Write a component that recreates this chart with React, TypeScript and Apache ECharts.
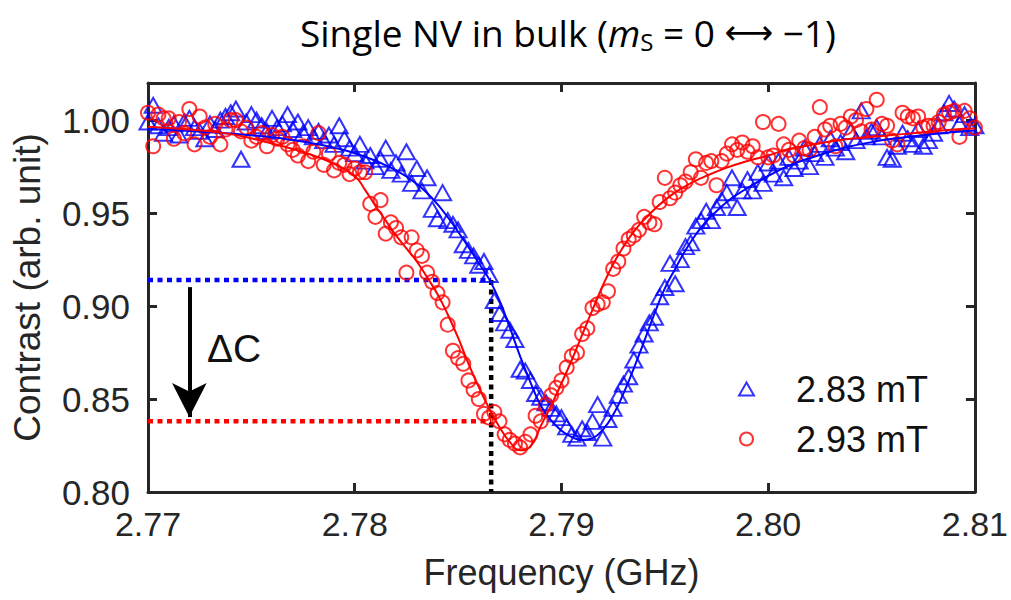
import React, { useEffect, useRef } from "react";
import * as echarts from "echarts";

// Frequency sweep (GHz)
const freq = [
  2.77, 2.77025, 2.7705, 2.77075, 2.771, 2.77125, 2.7715, 2.77175, 2.772, 2.77225,
  2.7725, 2.77275, 2.773, 2.77325, 2.7735, 2.77375, 2.774, 2.77425, 2.7745, 2.77475,
  2.775, 2.77525, 2.7755, 2.77575, 2.776, 2.77625, 2.7765, 2.77675, 2.777, 2.77725,
  2.7775, 2.77775, 2.778, 2.77825, 2.7785, 2.77875, 2.779, 2.77925, 2.7795, 2.77975,
  2.78, 2.78025, 2.7805, 2.78075, 2.781, 2.78125, 2.7815, 2.78175, 2.782, 2.78225,
  2.7825, 2.78275, 2.783, 2.78325, 2.7835, 2.78375, 2.784, 2.78425, 2.7845, 2.78475,
  2.785, 2.78525, 2.7855, 2.78575, 2.786, 2.78625, 2.7865, 2.78675, 2.787, 2.78725,
  2.7875, 2.78775, 2.788, 2.78825, 2.7885, 2.78875, 2.789, 2.78925, 2.7895, 2.78975,
  2.79, 2.79025, 2.7905, 2.79075, 2.791, 2.79125, 2.7915, 2.79175, 2.792, 2.79225,
  2.7925, 2.79275, 2.793, 2.79325, 2.7935, 2.79375, 2.794, 2.79425, 2.7945, 2.79475,
  2.795, 2.79525, 2.7955, 2.79575, 2.796, 2.79625, 2.7965, 2.79675, 2.797, 2.79725,
  2.7975, 2.79775, 2.798, 2.79825, 2.7985, 2.79875, 2.799, 2.79925, 2.7995, 2.79975,
  2.8, 2.80025, 2.8005, 2.80075, 2.801, 2.80125, 2.8015, 2.80175, 2.802, 2.80225,
  2.8025, 2.80275, 2.803, 2.80325, 2.8035, 2.80375, 2.804, 2.80425, 2.8045, 2.80475,
  2.805, 2.80525, 2.8055, 2.80575, 2.806, 2.80625, 2.8065, 2.80675, 2.807, 2.80725,
  2.8075, 2.80775, 2.808, 2.80825, 2.8085, 2.80875, 2.809, 2.80925, 2.8095, 2.80975,
  2.81,
];

// 2.83 mT (blue triangles)
const contrast283 = [
  0.999, 1.008, 0.997, 0.993, 0.996, 0.998, 0.992, 0.999, 1.001, 0.996,
  0.994, 0.99, 0.998, 0.995, 1.0, 1.002, 1.004, 1.006, 0.979, 0.999,
  1.003, 1.0, 0.997, 0.994, 1.001, 0.996, 0.998, 1.003, 0.995, 0.999,
  0.993, 0.996, 0.991, 0.994, 0.989, 0.992, 0.987, 0.997, 0.99, 0.985,
  0.982, 0.987, 0.978, 0.981, 0.975, 0.979, 0.985, 0.973, 0.977, 0.971,
  0.983, 0.966, 0.974, 0.962, 0.969, 0.952, 0.947, 0.961, 0.946, 0.944,
  0.941, 0.933, 0.93, 0.927, 0.922, 0.924, 0.917, 0.903, 0.896, 0.891,
  0.887, 0.882, 0.866, 0.865, 0.86, 0.853, 0.851, 0.848, 0.845, 0.842,
  0.84, 0.835, 0.831, 0.829, 0.834, 0.832, 0.838, 0.847, 0.829, 0.839,
  0.845, 0.852, 0.858, 0.862, 0.871, 0.879, 0.885, 0.891, 0.894, 0.905,
  0.91, 0.923, 0.912, 0.925, 0.932, 0.934, 0.943, 0.946, 0.951, 0.946,
  0.953, 0.957, 0.961, 0.969, 0.953, 0.962, 0.968, 0.962, 0.972, 0.966,
  0.977, 0.971, 0.978, 0.969, 0.98, 0.974, 0.978, 0.985, 0.975, 0.982,
  0.987, 0.98, 0.99, 0.985, 0.988, 0.983, 0.994, 0.989, 1.005, 0.991,
  0.994, 0.996, 0.991, 0.98, 0.979, 0.986, 0.993, 0.99, 0.987, 0.995,
  0.986, 0.989, 0.993, 0.997, 1.004, 1.009, 1.006, 0.998, 1.003, 0.996,
  0.997,
];

// 2.93 mT (red circles)
const contrast293 = [
  1.004, 0.986, 1.003, 1.001, 1.001, 0.99, 0.999, 0.993, 1.006, 0.987,
  1.002, 0.996, 0.991, 0.998, 0.987, 0.995, 1.0, 1.0, 0.994, 0.996,
  0.989, 0.991, 0.993, 0.986, 0.992, 0.99, 0.991, 0.987, 0.984, 0.981,
  0.986, 0.978, 0.983, 0.993, 0.976, 0.982, 0.973, 0.977, 0.976, 0.971,
  0.974, 0.972, 0.972, 0.955, 0.948, 0.957, 0.939, 0.945, 0.942, 0.937,
  0.918, 0.937, 0.93, 0.927, 0.918, 0.913, 0.907, 0.902, 0.89, 0.876,
  0.872, 0.869, 0.86, 0.855, 0.85, 0.842, 0.84, 0.843, 0.838, 0.831,
  0.828, 0.826, 0.824, 0.827, 0.831, 0.841, 0.838, 0.847, 0.852, 0.856,
  0.86, 0.867, 0.873, 0.875, 0.885, 0.888, 0.899, 0.901, 0.902, 0.908,
  0.92, 0.924, 0.931, 0.936, 0.938, 0.941, 0.948, 0.945, 0.944, 0.956,
  0.969, 0.958, 0.961, 0.965, 0.967, 0.972, 0.979, 0.969, 0.977, 0.978,
  0.965, 0.978, 0.982, 0.987, 0.984, 0.988, 0.983, 0.986, 0.98, 0.999,
  0.98, 0.981, 0.998, 0.987, 0.984, 0.981, 0.989, 0.985, 0.984, 0.991,
  1.007, 0.995, 0.997, 0.986, 0.998, 0.996, 1.002, 1.0, 0.994, 1.006,
  0.995, 1.011, 0.998, 0.997, 0.989, 0.987, 1.004, 1.002, 1.001, 1.002,
  0.996, 0.997, 0.997, 0.999, 1.003, 1.004, 1.005, 0.991, 1.005, 1.001,
  0.996,
];

// Fitted curves
const fitFreq283 = [
  2.77, 2.772, 2.774, 2.776, 2.777, 2.778, 2.779, 2.78, 2.781, 2.7815,
  2.782, 2.7825, 2.783, 2.7835, 2.784, 2.7845, 2.785, 2.7855, 2.786, 2.7865,
  2.787, 2.7875, 2.788, 2.7885, 2.789, 2.7895, 2.79, 2.7905, 2.791, 2.7915,
  2.792, 2.7925, 2.793, 2.7935, 2.794, 2.7945, 2.795, 2.7955, 2.796, 2.7965,
  2.797, 2.7975, 2.798, 2.7985, 2.799, 2.8, 2.801, 2.802, 2.803, 2.804,
  2.805, 2.806, 2.807, 2.808, 2.809, 2.81,
];
const fit283 = [
  0.9952, 0.9942, 0.9928, 0.9908, 0.9893, 0.9875, 0.9852, 0.9822, 0.9782, 0.9757,
  0.973, 0.9697, 0.9657, 0.9608, 0.9548, 0.9478, 0.94, 0.9318, 0.9232, 0.9145,
  0.903, 0.8885, 0.873, 0.859, 0.8465, 0.8385, 0.833, 0.8295, 0.828, 0.829,
  0.8335, 0.8415, 0.853, 0.8665, 0.881, 0.896, 0.9095, 0.92, 0.93, 0.9385,
  0.9455, 0.951, 0.956, 0.96, 0.9635, 0.97, 0.9755, 0.9795, 0.983, 0.986,
  0.9882, 0.99, 0.9913, 0.9925, 0.9936, 0.9945,
];
const fitFreq293 = [
  2.77, 2.772, 2.774, 2.776, 2.777, 2.778, 2.779, 2.78, 2.7805, 2.781,
  2.7815, 2.782, 2.7825, 2.783, 2.7835, 2.784, 2.7845, 2.785, 2.7855, 2.786,
  2.7865, 2.787, 2.7875, 2.788, 2.7885, 2.789, 2.7895, 2.79, 2.7905, 2.791,
  2.7915, 2.792, 2.7925, 2.793, 2.7935, 2.794, 2.795, 2.796, 2.797, 2.798,
  2.799, 2.8, 2.801, 2.802, 2.803, 2.804, 2.805, 2.806, 2.807, 2.808,
  2.809, 2.81,
];
const fit293 = [
  0.9965, 0.995, 0.9925, 0.9875, 0.9845, 0.981, 0.9765, 0.97, 0.9625, 0.954,
  0.946, 0.938, 0.931, 0.924, 0.9155, 0.9065, 0.8955, 0.883, 0.869, 0.8565,
  0.845, 0.835, 0.827, 0.8225, 0.8245, 0.8355, 0.8465, 0.8585, 0.871, 0.8845,
  0.898, 0.911, 0.9225, 0.932, 0.94, 0.9465, 0.957, 0.9645, 0.97, 0.9745,
  0.978, 0.981, 0.9845, 0.9865, 0.9885, 0.99, 0.991, 0.992, 0.993, 0.994,
  0.995, 0.9955,
];

// Annotation values
const markFreq = 2.7866;
const levelBlue = 0.914;
const levelRed = 0.838;
const arrowFreq = 2.772;
const arrowTop = 0.9102;
const arrowTip = 0.8403;

const xMin = 2.77;
const xMax = 2.81;
const xStep = 0.01;
const yMin = 0.8;
const yMax = 1.02;
const yStep = 0.05;

const seriesNames = ["2.83 mT", "2.93 mT"];

const zip = (xs: number[], ys: number[]) => xs.map((x, i) => [x, ys[i]]);

const AXIS_COLOR = "#262626";
const FONT = "Liberation Sans";

export default function App() {
  const ref = useRef<HTMLDivElement>(null);

  useEffect(() => {
    document.body.style.margin = "0";
    if (!ref.current) return;
    const chart = echarts.init(ref.current, undefined, { renderer: "svg" });

    const axisCommon = {
      axisLine: { show: true, onZero: false, lineStyle: { color: AXIS_COLOR, width: 3 } },
      axisTick: { show: true, inside: true, length: 9, lineStyle: { color: AXIS_COLOR, width: 3 } },
      splitLine: { show: false },
    };

    const dotted = (color: string) => ({
      type: "line",
      silent: true,
      symbol: "none",
      z: 1,
      lineStyle: { color, width: 4.5, type: [5, 4.5], cap: "butt" },
    });

    const titleFont = { fontFamily: "Open Sans", fontWeight: "normal", color: "#000" };

    chart.setOption({
      animation: false,
      title: {
        left: 563,
        top: 6,
        textAlign: "center",
        text: "{a|Single NV in bulk (}{i|m}{s|S}{a| = 0 }{r|⟷}{a| −1)}",
        textStyle: {
          fontWeight: "normal",
          rich: {
            a: { fontSize: 37, ...titleFont },
            i: { fontSize: 37, fontStyle: "italic", ...titleFont },
            s: { fontSize: 24, ...titleFont, padding: [18, 0, 0, 0] },
            r: { fontSize: 34, fontFamily: "DejaVu Sans", color: "#000" },
          },
        },
      },
      grid: { left: 148, right: 33, top: 83, bottom: 108 },
      xAxis: [
        {
          type: "value",
          min: xMin,
          max: xMax,
          interval: xStep,
          name: "Frequency (GHz)",
          nameLocation: "middle",
          nameGap: 62,
          nameTextStyle: { fontSize: 36, fontFamily: FONT, color: AXIS_COLOR },
          axisLabel: {
            margin: 15,
            fontSize: 34,
            fontFamily: FONT,
            color: AXIS_COLOR,
            formatter: (v: number) => v.toFixed(2),
          },
          ...axisCommon,
        },
        {
          type: "value",
          position: "top",
          min: xMin,
          max: xMax,
          interval: xStep,
          axisLabel: { show: false },
          ...axisCommon,
        },
      ],
      yAxis: [
        {
          type: "value",
          min: yMin,
          max: yMax,
          interval: yStep,
          name: "Contrast (arb. unit)",
          nameLocation: "middle",
          nameGap: 102,
          nameTextStyle: { fontSize: 37, fontFamily: FONT, color: AXIS_COLOR },
          axisLabel: {
            margin: 18,
            fontSize: 35,
            fontFamily: FONT,
            color: AXIS_COLOR,
            showMaxLabel: false,
            formatter: (v: number) => v.toFixed(2),
          },
          ...axisCommon,
        },
        {
          type: "value",
          position: "right",
          min: yMin,
          max: yMax,
          interval: yStep,
          axisLabel: { show: false },
          ...axisCommon,
        },
      ],
      legend: {
        data: seriesNames,
        orient: "vertical",
        left: 733,
        top: 366,
        itemWidth: 15,
        itemHeight: 13,
        itemGap: 14,
        textStyle: {
          fontSize: 36,
          fontFamily: FONT,
          color: "#111",
          lineHeight: 34,
          padding: [0, 0, 0, 37],
        },
      },
      graphic: [
        {
          type: "text",
          left: 207,
          top: 329,
          style: { text: "ΔC", font: '39px "Liberation Sans"', fill: "#111" },
        },
      ],
      series: [
        {
          ...dotted("#0000ff"),
          data: [
            [xMin, levelBlue],
            [markFreq, levelBlue],
          ],
        },
        {
          ...dotted("#ff0000"),
          data: [
            [xMin, levelRed],
            [markFreq, levelRed],
          ],
        },
        {
          ...dotted("#000000"),
          data: [
            [markFreq, levelBlue],
            [markFreq, yMin],
          ],
          markLine: {
            silent: true,
            symbol: ["none", "arrow"],
            symbolSize: [26, 34],
            label: { show: false },
            lineStyle: { color: "#000", width: 4, type: "solid" },
            data: [[{ coord: [arrowFreq, arrowTop] }, { coord: [arrowFreq, arrowTip] }]],
          },
        },
        {
          name: seriesNames[0],
          type: "scatter",
          symbol: "triangle",
          symbolSize: [17, 15],
          z: 3,
          itemStyle: { color: "rgba(0,0,0,0)", borderColor: "#0000ff", borderWidth: 2 },
          data: zip(freq, contrast283),
        },
        {
          name: seriesNames[1],
          type: "scatter",
          symbol: "circle",
          symbolSize: 14,
          z: 3,
          itemStyle: { color: "rgba(0,0,0,0)", borderColor: "#ff0000", borderWidth: 2 },
          data: zip(freq, contrast293),
        },
        {
          name: "fit 2.83",
          type: "line",
          symbol: "none",
          smooth: true,
          z: 4,
          lineStyle: { color: "#0000ff", width: 2 },
          data: zip(fitFreq283, fit283),
        },
        {
          name: "fit 2.93",
          type: "line",
          symbol: "none",
          smooth: true,
          z: 4,
          lineStyle: { color: "#ff0000", width: 2 },
          data: zip(fitFreq293, fit293),
        },
      ],
    });

    return () => chart.dispose();
  }, []);

  return <div ref={ref} style={{ width: 1011, height: 600 }} />;
}
